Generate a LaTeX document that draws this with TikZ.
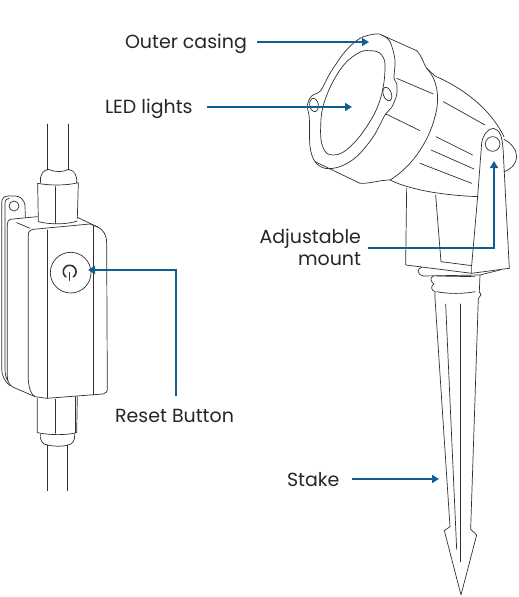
\documentclass[tikz,border=0pt]{standalone}
\usepackage{fontspec}
\setmainfont{Poppins}
\usetikzlibrary{arrows.meta}
\definecolor{callout}{HTML}{0F5F93}
\definecolor{ink}{HTML}{303030}
\tikzset{
  outline/.style={draw=ink,line width=0.7pt,line join=round,line cap=round},
  callline/.style={draw=callout,line width=1.5pt,-{Triangle[length=7pt,width=8pt]}},
  lbl/.style={font=\fontsize{19}{22}\selectfont,text=black!85,inner sep=0pt,outer sep=0pt},
  lamp/.style={shift={(250,20)},x=0.3333pt,y=-0.3333pt},
  box/.style={shift={(0,120)},x=0.3333pt,y=-0.3333pt},
  spike/.style={shift={(400,260)},x=0.3333pt,y=-0.3333pt}
}
\begin{document}
\begin{tikzpicture}[x=1pt,y=-1pt]
\useasboundingbox (0,0) rectangle (519,597);
% lamp
\begin{scope}[lamp,outline]
\draw plot[smooth cycle,tension=0.55] coordinates {(375,42)(330,55)(285,95)(240,160)(212,212)(185,228)(172,255)(178,295)(180,380)(195,425)(225,445)(270,440)(320,410)(370,350)(405,285)(425,262)(440,225)(440,190)(432,175)(435,120)(420,65)(395,45)};
\draw plot[smooth cycle,tension=0.7] coordinates {(360,92)(320,102)(270,150)(225,240)(212,320)(220,385)(250,405)(295,385)(350,320)(390,240)(405,150)(395,105)};
\draw[rotate around={10:(192,255)}] (192,255) ellipse (13 and 20);
\draw[rotate around={20:(412,222)}] (412,222) ellipse (12 and 21);
\draw (395,45) -- (500,92) .. controls (515,105) and (520,130) .. (530,145) -- (555,168) .. controls (640,205) and (720,265) .. (762,350);
\draw (530,145) .. controls (560,175) and (572,230) .. (555,290) .. controls (535,370) and (480,445) .. (420,480);
\draw (195,425) -- (330,490) .. controls (355,492) and (390,480) .. (420,480) .. controls (470,505) and (560,525) .. (683,530);
\draw (440,175) -- (550,222) (408,282) -- (510,332) (580,245) -- (705,315) (558,350) -- (668,405) (543,390) -- (672,447) (510,430) -- (665,490);
\draw (683,530) -- (695,370) .. controls (698,345) and (715,325) .. (730,325) .. controls (750,330) and (757,345) .. (760,400) -- (778,745);
\draw (728,372) circle (22);
\draw (762,358) .. controls (785,370) and (800,390) .. (800,410) .. controls (800,430) and (785,448) .. (762,455);
\draw (470,505) -- (467,735) -- (665,760) -- (778,745);
\draw (557,525) -- (573,725) -- (665,737);
\draw (683,530) -- (665,737) -- (665,760);
\end{scope}
% stake
\begin{scope}[spike,outline]
\draw (65,22) .. controls (52,25) and (48,42) .. (70,48) -- (240,45) -- (300,30);
\draw (100,48) .. controls (88,55) and (92,65) .. (102,72) .. controls (92,78) and (92,90) .. (105,95) -- (105,115) -- (150,800) -- (133,812) -- (183,1005) -- (230,825) -- (212,808) -- (235,115) -- (243,105) -- (238,95) -- (240,45);
\draw (110,48) -- (225,50);
\draw (110,95) .. controls (145,102) and (190,102) .. (225,95);
\draw (137,132) -- (170,868);
\draw (182,132) -- (182,905);
\end{scope}
% reset box
\begin{scope}[box,outline]
\draw (143,12) -- (143,150) (205,12) -- (205,150);
\draw (122,188) .. controls (118,165) and (130,150) .. (145,148) .. controls (165,157) and (190,157) .. (205,148) .. controls (222,150) and (232,165) .. (230,188);
\draw (113,190) .. controls (150,197) and (200,197) .. (235,188) -- (232,295);
\draw (113,190) -- (115,305) .. controls (150,314) and (200,314) .. (232,303);
\draw (165,200) -- (165,310);
\draw (112,290) -- (30,298) .. controls (24,300) and (22,308) .. (22,315) -- (22,770) .. controls (22,785) and (28,795) .. (40,802) -- (105,830) -- (140,835) -- (310,822) .. controls (318,820) and (322,815) .. (322,805) -- (320,370) .. controls (320,345) and (310,330) .. (295,322) -- (232,292);
\draw (85,345) .. controls (85,335) and (90,330) .. (100,328) -- (270,312) -- (295,322);
\draw (85,345) -- (85,780) .. controls (87,805) and (92,822) .. (105,830);
\draw (50,308) -- (90,325);
\draw (142,330) -- (142,835) (280,318) -- (280,825);
\draw (76,293) -- (75,255) .. controls (72,240) and (62,228) .. (45,228) -- (25,228) .. controls (12,228) and (5,235) .. (5,250) -- (5,745) .. controls (5,765) and (12,782) .. (30,797);
\draw (15,300) -- (15,250) .. controls (15,240) and (20,236) .. (28,235);
\draw (15,300) -- (15,745) .. controls (15,765) and (18,775) .. (24,782);
\draw (42,258) circle (15);
\draw (212,458) circle (61);
\draw[line width=1.6pt] plot[smooth,domain=125:415,samples=30] ({209+19*cos(\x)},{455+19*sin(\x)});
\draw[line width=1.6pt] (209,458) -- (209,481);
\draw (112,835) -- (112,938) .. controls (150,946) and (200,946) .. (230,938) -- (232,830);
\draw (165,838) -- (165,940) (225,830) -- (225,938);
\draw (122,943) .. controls (118,962) and (130,975) .. (142,975) .. controls (165,980) and (190,980) .. (205,975) .. controls (218,973) and (226,960) .. (224,942);
\draw (142,975) -- (142,1112) (202,975) -- (202,1112);
\end{scope}
% labels
\node[lbl,anchor=base west] (casing) at (125,48) {Outer casing};
\node[lbl,anchor=base west] (led) at (105,113) {LED lights};
\node[lbl,anchor=base east] (adjust) at (361,243) {Adjustable};
\node[lbl,anchor=base east] (mount) at (361,265) {mount};
\node[lbl,anchor=base west] (reset) at (115,422) {Reset Button};
\node[lbl,anchor=base west] (stake) at (287,486) {Stake};
% callouts
\coordinate (casingStart) at (257,42);
\coordinate (casingEnd) at (369,42);
\coordinate (ledStart) at (207,107);
\coordinate (ledEnd) at (352,107);
\coordinate (mountStart) at (368,248);
\coordinate (mountEnd) at (494,161);
\coordinate (buttonEnd) at (88,270);
\coordinate (resetStart) at (176,396);
\coordinate (stakeStart) at (352,479);
\coordinate (stakeEnd) at (439,479);
\draw[callline] (casingStart) -- (casingEnd);
\draw[callline] (ledStart) -- (ledEnd);
\draw[callline] (mountStart) -| (mountEnd);
\draw[callline] (resetStart) |- (buttonEnd);
\draw[callline] (stakeStart) -- (stakeEnd);
\end{tikzpicture}
\end{document}
